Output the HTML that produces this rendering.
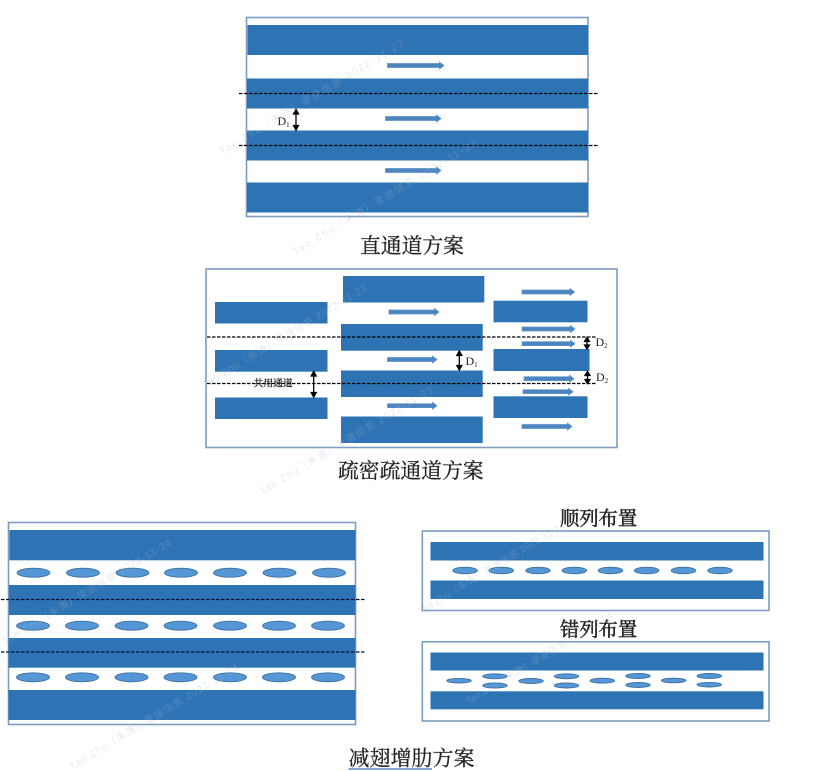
<!DOCTYPE html>
<html><head><meta charset="utf-8"><style>
html,body{margin:0;padding:0;background:#fff}
svg{display:block;filter:blur(.35px)}
.b{fill:#2e74b5}
.f{fill:#fff;stroke:#7c9cc0;stroke-width:1.6}
.a{fill:#4d86bf;stroke:#5b93cc;stroke-width:.7}
.e{fill:#5596d6;stroke:#3f729f;stroke-width:.9}
.d{stroke:#000;stroke-width:1.2;stroke-dasharray:3.5 1.5;fill:none}
.k{stroke:#000;stroke-width:1.3;fill:#000}
.t{font-family:"Liberation Serif","Noto Serif CJK SC",serif;fill:#222}
.h{stroke:#222;stroke-width:.25}
.w{font-family:"Liberation Sans","Noto Sans CJK SC",sans-serif;font-size:10px;fill:rgba(165,185,205,.3)}
</style></head><body>
<svg width="824" height="771" viewBox="0 0 824 771" xmlns="http://www.w3.org/2000/svg">
<!-- panel 1 -->
<rect class="f" x="246.500" y="17.500" width="341.500" height="199"/>
<rect class="b" x="247.500" y="25" width="340.500" height="30"/>
<rect class="b" x="247" y="78.500" width="341" height="30"/>
<rect class="b" x="247" y="130.500" width="341" height="30"/>
<rect class="b" x="247" y="182.500" width="341" height="30"/>
<path class="a" d="M387.500 63.500h52v-1.500l4.500 3.500-4.500 3.500v-1.500h-52z"/>
<path class="a" d="M385.500 116.500h51v-1.500l4.500 3.500-4.500 3.500v-1.500h-51z"/>
<path class="a" d="M385.500 168.500h51v-1.500l4.500 3.500-4.500 3.500v-1.500h-51z"/>
<line class="d" x1="239" y1="93.500" x2="598" y2="93.500"/>
<line class="d" x1="239" y1="145.500" x2="598" y2="145.500"/>
<path class="k" d="M296 109.500l-2.500 4.500h5zM296 130l-2.500-4.500h5zM296 112v16"/>
<text class="t" x="277.500" y="125" font-size="12">D<tspan font-size="7" dy="2">1</tspan></text>
<text class="t h" x="360" y="253" font-size="20.800">直通道方案</text>

<!-- panel 2 -->
<rect class="f" x="206" y="269" width="411" height="178.500"/>
<rect class="b" x="215" y="302" width="112.500" height="21.500"/>
<rect class="b" x="215" y="350" width="112.500" height="21.700"/>
<rect class="b" x="215" y="397.500" width="112.500" height="21.500"/>
<rect class="b" x="343" y="276" width="141.300" height="26.500"/>
<rect class="b" x="341" y="324" width="141.700" height="26.700"/>
<rect class="b" x="341" y="370.500" width="141.700" height="26.500"/>
<rect class="b" x="341" y="416.500" width="141.700" height="26.500"/>
<rect class="b" x="493.500" y="300.700" width="94" height="21.600"/>
<rect class="b" x="493.500" y="349" width="96" height="22"/>
<rect class="b" x="493.500" y="396.300" width="94" height="21.700"/>
<path class="a" d="M389 310h45.500v-1.500l4.500 3.500-4.500 3.500v-1.500h-45.500z"/>
<path class="a" d="M387.500 357.500h45v-1.500l4.500 3.500-4.500 3.500v-1.500h-45z"/>
<path class="a" d="M387.500 403.700h45v-1.500l4.500 3.500-4.500 3.500v-1.500h-45z"/>
<path class="a" d="M522 290h48v-1.500l4.500 3.500-4.500 3.500v-1.500h-48z"/>
<path class="a" d="M522 327h48.500v-1.500l4.500 3.500-4.500 3.500v-1.500h-48.500z"/>
<path class="a" d="M522 341.700h48.500v-1.500l4.500 3.500-4.500 3.500v-1.500h-48.500z"/>
<path class="a" d="M524 376.700h45.500v-1.500l4.500 3.500-4.500 3.500v-1.500h-45.500z"/>
<path class="a" d="M523 389.700h45.500v-1.500l4.500 3.500-4.500 3.500v-1.500h-45.500z"/>
<path class="a" d="M522 424.500h45.500v-1.500l4.500 3.500-4.500 3.500v-1.500h-45.500z"/>
<line class="d" x1="207" y1="337" x2="597" y2="337"/>
<line class="d" x1="207" y1="383.500" x2="597" y2="383.500"/>
<path class="k" d="M459.300 351l-2.500 4.500h5zM459.300 370l-2.500-4.500h5zM459.300 353v15"/>
<path class="k" d="M313.700 371.500l-2.500 4.500h5zM313.700 397l-2.500-4.500h5zM313.700 374v21"/>
<path class="k" d="M587 337.500l-2.500 4h5zM587 349l-2.500-4h5zM587 340v7"/>
<path class="k" d="M587.500 371.500l-2.500 4h5zM587.500 383.500l-2.500-4h5zM587.500 374v7"/>
<text class="t" x="465.500" y="365" font-size="12">D<tspan font-size="7" dy="2">1</tspan></text>
<text class="t" x="595.500" y="346" font-size="12">D<tspan font-size="7" dy="2">2</tspan></text>
<text class="t" x="596" y="381" font-size="12">D<tspan font-size="7" dy="2">2</tspan></text>
<text class="t h" x="253.500" y="386.500" font-size="9.800" style="fill:#111">共用通道</text>
<text class="t h" x="338" y="478" font-size="20.800">疏密疏通道方案</text>

<!-- panel 3 -->
<rect class="f" x="8.500" y="522.500" width="347" height="202"/>
<rect class="b" x="9.500" y="530" width="346" height="30.300"/>
<rect class="b" x="9" y="585" width="346.500" height="30"/>
<rect class="b" x="8.500" y="638" width="347" height="29.700"/>
<rect class="b" x="8.500" y="690" width="347" height="30"/>
<line class="d" x1="1" y1="599.500" x2="365" y2="599.500" style="stroke:#00103a"/>
<line class="d" x1="1" y1="652" x2="365" y2="652" style="stroke:#00103a"/>
<g class="e">
<ellipse cx="33.500" cy="572.700" rx="16.500" ry="4.500"/><ellipse cx="83" cy="572.700" rx="16.500" ry="4.500"/><ellipse cx="132.500" cy="572.700" rx="16.500" ry="4.500"/><ellipse cx="181" cy="572.700" rx="16.500" ry="4.500"/><ellipse cx="230" cy="572.700" rx="16.500" ry="4.500"/><ellipse cx="279.500" cy="572.700" rx="16.500" ry="4.500"/><ellipse cx="329" cy="572.700" rx="16.500" ry="4.500"/>
<ellipse cx="33" cy="625.700" rx="16.500" ry="4.500"/><ellipse cx="82" cy="625.700" rx="16.500" ry="4.500"/><ellipse cx="131.500" cy="625.700" rx="16.500" ry="4.500"/><ellipse cx="180.500" cy="625.700" rx="16.500" ry="4.500"/><ellipse cx="230" cy="625.700" rx="16.500" ry="4.500"/><ellipse cx="279" cy="625.700" rx="16.500" ry="4.500"/><ellipse cx="328" cy="625.700" rx="16.500" ry="4.500"/>
<ellipse cx="33" cy="677.300" rx="16.500" ry="4.500"/><ellipse cx="82" cy="677.300" rx="16.500" ry="4.500"/><ellipse cx="131.500" cy="677.300" rx="16.500" ry="4.500"/><ellipse cx="180.500" cy="677.300" rx="16.500" ry="4.500"/><ellipse cx="230" cy="677.300" rx="16.500" ry="4.500"/><ellipse cx="279" cy="677.300" rx="16.500" ry="4.500"/><ellipse cx="328" cy="677.300" rx="16.500" ry="4.500"/>
</g>
<text class="t h" x="348.500" y="765.500" font-size="21">减翅增肋方案</text>
<line x1="348.500" y1="769" x2="432" y2="769" stroke="#3f6fb5" stroke-width="1.300"/>

<!-- panel 4 -->
<text class="t h" x="560" y="525" font-size="19.300" style="stroke-width:.45">顺列布置</text>
<rect class="f" x="422.300" y="531" width="346.700" height="79.500"/>
<rect class="b" x="430.500" y="542" width="333" height="18.500"/>
<rect class="b" x="430.500" y="580.500" width="333" height="18.500"/>
<g class="e">
<ellipse cx="465" cy="570.500" rx="12.300" ry="3.300"/><ellipse cx="501.300" cy="570.500" rx="12.300" ry="3.300"/><ellipse cx="538" cy="570.500" rx="12.300" ry="3.300"/><ellipse cx="574.300" cy="570.500" rx="12.300" ry="3.300"/><ellipse cx="610.500" cy="570.500" rx="12.300" ry="3.300"/><ellipse cx="646.700" cy="570.500" rx="12.300" ry="3.300"/><ellipse cx="683.500" cy="570.500" rx="12.300" ry="3.300"/><ellipse cx="720" cy="570.500" rx="12.300" ry="3.300"/>
</g>

<!-- panel 5 -->
<text class="t h" x="560" y="636" font-size="19.300" style="stroke-width:.45">错列布置</text>
<rect class="f" x="422.300" y="641.800" width="346.700" height="79.200"/>
<rect class="b" x="430.500" y="652.500" width="333" height="18"/>
<rect class="b" x="430.500" y="691.300" width="333" height="18"/>
<g class="e">
<ellipse cx="459" cy="680.700" rx="12.300" ry="2.300"/><ellipse cx="531" cy="681" rx="12.300" ry="2.500"/><ellipse cx="602.300" cy="680.700" rx="12.300" ry="2.500"/><ellipse cx="673.700" cy="680.500" rx="12.300" ry="2.300"/>
<ellipse cx="495" cy="676.300" rx="12.300" ry="2.500"/><ellipse cx="566.500" cy="676.300" rx="12.300" ry="2.500"/><ellipse cx="638" cy="676" rx="12.300" ry="2.500"/><ellipse cx="709.300" cy="676" rx="12.300" ry="2.500"/>
<ellipse cx="495" cy="685.500" rx="12.300" ry="2.500"/><ellipse cx="566.500" cy="685.500" rx="12.300" ry="2.500"/><ellipse cx="638" cy="685" rx="12.300" ry="2.500"/><ellipse cx="709.300" cy="684.700" rx="12.300" ry="2.300"/>
</g>

<!-- watermarks -->
<text class="w" transform="translate(222 155) rotate(-31)" textLength="213" lengthAdjust="spacing">Tao Zhu（朱涛）录迪信息 2022-11-23</text>
<text class="w" transform="translate(295 255) rotate(-31)" textLength="213" lengthAdjust="spacing">Tao Zhu（朱涛）录迪信息 2022-11-23</text>
<text class="w" transform="translate(205 388) rotate(-31)" textLength="190" lengthAdjust="spacing">Tao Zhu（朱涛）录迪信息 2022-11-23</text>
<text class="w" transform="translate(262 495) rotate(-31)" textLength="200" lengthAdjust="spacing">Tao Zhu（朱涛）录迪信息 2022-11-23</text>
<text class="w" transform="translate(5 645) rotate(-31)" textLength="195" lengthAdjust="spacing">Tao Zhu（朱涛）录迪信息 2022-11-24</text>
<text class="w" transform="translate(72 770) rotate(-31)" textLength="195" lengthAdjust="spacing">Tao Zhu（朱涛）录迪信息 2022-11-24</text>
<text class="w" transform="translate(420 615) rotate(-31)" textLength="170" lengthAdjust="spacing">Tao Zhu（朱涛）录迪信息 2022-11-24</text>
<text class="w" transform="translate(468 705) rotate(-31)" textLength="170" lengthAdjust="spacing">Tao Zhu（朱涛）录迪信息 2022-11-24</text>
</svg>
</body></html>
